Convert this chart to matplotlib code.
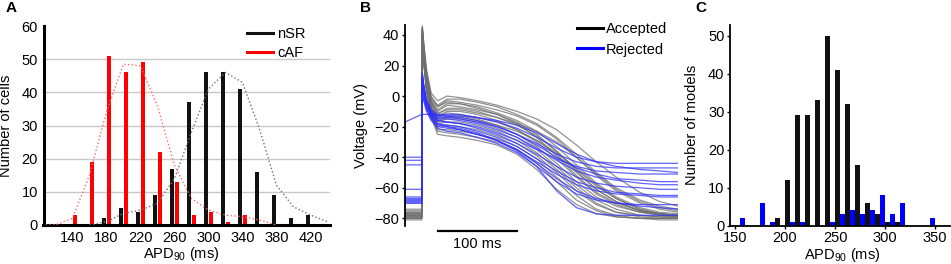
import matplotlib
matplotlib.use('Agg')
import matplotlib.pyplot as plt
from matplotlib.lines import Line2D
import numpy as np

plt.rcParams['font.family'] = ['Liberation Sans', 'DejaVu Sans']
plt.rcParams['mathtext.fontset'] = 'custom'
plt.rcParams['mathtext.rm'] = 'Liberation Sans'
plt.rcParams['mathtext.it'] = 'Liberation Sans:italic'
plt.rcParams['font.size'] = 10.5

# ---------------- Panel A data ----------------
bins_a = [140, 160, 180, 200, 220, 240, 260, 280, 300, 320, 340, 360, 380, 400, 420]
nsr_counts = [0, 0, 2, 5, 4, 9, 17, 37, 46, 46, 41, 16, 9, 2, 3]
caf_counts = [3, 19, 51, 46, 49, 22, 13, 3, 4, 1, 3, 0, 0, 0, 0]
nsr_curve_x = [160, 180, 200, 220, 240, 260, 280, 300, 320, 340, 360, 380, 400, 420, 440]
nsr_curve = [0, 1, 3.5, 4.5, 6.5, 14, 28, 41, 46, 43, 29, 12, 5.5, 3, 1]
caf_curve_x = [100, 120, 140, 160, 180, 200, 220, 240, 260, 280, 300, 320, 340, 360, 380]
caf_curve = [0, 0, 2, 15, 34, 48.5, 48, 36, 18, 8, 4.5, 3, 2.5, 1.5, 0]
a_xticks = [140, 180, 220, 260, 300, 340, 380, 420]

# ---------------- Panel B data (action potential traces) ----------------
t_ms = [-21, 0, 0.8, 2.5, 6, 12, 20, 32, 48, 70, 95, 120, 145, 170, 195, 220, 245, 275, 300, 323]
accepted = [
    [-74, -74, 46, 36, 18, 2, -3, 0, -1, -3, -6, -10, -15, -22, -32, -43, -53, -63, -69, -72],
    [-75, -75, 45, 34, 16, 0, -6, -2, -2, -4, -7, -12, -18, -27, -38, -50, -60, -68, -72, -74],
    [-76, -76, 44, 33, 15, -2, -7, -3, -4, -6, -9, -13, -19, -28, -40, -52, -62, -70, -74, -76],
    [-77, -77, 44, 32, 13, -3, -9, -5, -5, -7, -11, -16, -23, -33, -45, -57, -66, -73, -76, -77],
    [-78, -78, 43, 31, 12, -4, -10, -6, -7, -9, -12, -17, -25, -36, -49, -61, -69, -75, -77, -78],
    [-79, -79, 42, 30, 11, -5, -12, -8, -8, -10, -14, -19, -26, -36, -48, -59, -67, -74, -77, -79],
    [-78, -78, 42, 29, 10, -6, -13, -10, -10, -12, -16, -22, -30, -41, -53, -64, -71, -76, -78, -79],
    [-80, -80, 41, 28, 9, -7, -14, -11, -12, -14, -17, -22, -29, -38, -50, -61, -69, -75, -78, -79],
    [-77, -77, 40, 27, 8, -8, -15, -13, -13, -15, -19, -25, -33, -44, -56, -66, -72, -76, -77, -78],
    [-79, -79, 39, 26, 7, -9, -17, -15, -15, -17, -21, -27, -35, -46, -58, -68, -74, -78, -79, -80],
    [-80, -80, 38, 25, 6, -10, -18, -17, -17, -19, -23, -29, -37, -48, -60, -70, -76, -79, -80, -80],
    [-78, -78, 37, 24, 5, -11, -20, -19, -20, -22, -26, -31, -39, -50, -62, -71, -76, -78, -79, -79],
    [-81, -81, 36, 23, 4, -12, -22, -22, -23, -25, -28, -33, -41, -53, -65, -74, -78, -80, -81, -81],
    [-80, -80, 35, 22, 3, -13, -23, -24, -25, -27, -30, -35, -44, -56, -68, -75, -79, -80, -80, -80],
    [-80, -80, 34, 22, 4, -14, -25, -26, -27, -29, -32, -38, -48, -61, -71, -77, -79, -80, -80, -80],
    [-76, -76, 43, 31, 12, -4, -11, -9, -9, -11, -14, -18, -23, -30, -40, -51, -61, -69, -73, -75],
    [-79, -79, 40, 27, 8, -8, -16, -14, -14, -16, -19, -23, -29, -37, -47, -58, -67, -74, -77, -78],
    [-77, -77, 45, 34, 15, -1, -7, -4, -5, -8, -12, -18, -27, -39, -52, -63, -70, -75, -77, -78],
]
rejected = [
    [-17, -12, -12, -12, -12, -12, -12.5, -13, -13, -14, -16, -19, -24, -31, -38, -43, -46, -48, -49, -50],
    [-40, -40, 15, 8, -2, -9, -12, -12, -12, -14, -17, -21, -27, -34, -40, -43, -44, -44, -44, -44],
    [-42, -42, 13, 6, -4, -11, -14, -14, -15, -17, -20, -25, -31, -38, -43, -46, -47, -47, -47, -47],
    [-45, -45, 10, 4, -6, -13, -16, -17, -18, -20, -24, -29, -35, -41, -46, -49, -50, -51, -51, -51],
    [-61, -61, 14, 7, -3, -10, -13, -13, -14, -16, -20, -25, -32, -40, -47, -51, -54, -55, -56, -56],
    [-66, -66, 12, 5, -5, -12, -16, -17, -18, -21, -25, -31, -38, -46, -53, -57, -59, -60, -61, -61],
    [-68, -68, 2, -2, -8, -14, -18, -19, -20, -23, -27, -33, -41, -49, -56, -60, -63, -64, -65, -65],
    [-69, -69, 0, -3, -10, -16, -20, -21, -22, -25, -29, -35, -43, -51, -58, -62, -64, -65, -66, -66],
    [-70, -70, 15, 7, -4, -12, -18, -20, -21, -24, -29, -36, -46, -62, -73, -77, -78, -78, -78, -78],
    [-67, -67, 13, 6, -4, -11, -15, -15, -16, -18, -22, -27, -34, -42, -49, -53, -55, -57, -58, -58],
    [-70, -70, 8, 2, -7, -14, -19, -20, -22, -25, -29, -35, -44, -54, -62, -67, -70, -72, -73, -74],
    [-68, -68, 5, 0, -8, -15, -21, -23, -24, -27, -31, -37, -46, -56, -64, -68, -70, -71, -71, -71],
]
b_yticks = [-80, -60, -40, -20, 0, 20, 40]

# ---------------- Panel C data ----------------
bins_c = [160, 170, 180, 190, 200, 210, 220, 230, 240, 250, 260, 270, 280, 290, 300, 310, 320, 330, 340, 350]
accepted_counts = [0, 0, 0, 2, 12, 29, 29, 33, 50, 41, 32, 16, 6, 3, 1, 1, 0, 0, 0, 0]
rejected_counts = [2, 0, 6, 1, 0, 1, 1, 0, 0, 1, 3, 4, 3, 4, 8, 3, 6, 0, 0, 2]
c_xticks = [150, 200, 250, 300, 350]
c_yticks = [0, 10, 20, 30, 40, 50]

W, H = 951, 264
fig = plt.figure(figsize=(W / 100, H / 100), dpi=100)

def px_axes(x0, y0, x1, y1):
    return fig.add_axes([x0 / W, 1 - y1 / H, (x1 - x0) / W, (y1 - y0) / H])

# ================= Panel A =================
axA = px_axes(43.5, 26, 330, 225)
bA = np.array(bins_a)
for gy in [10, 20, 30, 40, 50]:
    axA.axhline(gy, color='#c8c8c8', lw=1.0, zorder=0)
axA.bar(bA - 2.8, nsr_counts, width=5.2, color='#111111', zorder=2)
axA.bar(bA + 2.8, caf_counts, width=5.2, color='#ff0000', zorder=2)
axA.plot(nsr_curve_x, nsr_curve, ls=':', color='#707070', lw=1.0, zorder=3)
axA.plot(caf_curve_x, caf_curve, ls=':', color='#ff6a6a', lw=1.0, zorder=3)
axA.set_xlim(106, 443)
axA.set_ylim(0, 60)
axA.set_xticks(a_xticks)
axA.set_yticks([0, 10, 20, 30, 40, 50, 60])
axA.tick_params(length=0, pad=4, labelsize=10.5)
for s in ['top', 'right']:
    axA.spines[s].set_visible(False)
axA.spines['left'].set_linewidth(2.2)
axA.spines['bottom'].set_linewidth(2.2)
axA.set_ylabel('Number of cells')
axA.yaxis.set_label_coords(-0.105, 0.5)
axA.set_xlabel(r'APD$_{\mathrm{90}}$ (ms)')
axA.xaxis.set_label_coords(0.48, -0.1)
hA = [Line2D([], [], color='#111111', lw=2.2), Line2D([], [], color='#ff0000', lw=2.2)]
fig.legend(hA, ['nSR', 'cAF'], loc='upper left', bbox_to_anchor=(247 / W, 1 - 27 / H),
           frameon=False, borderpad=0, borderaxespad=0, handlelength=1.8,
           handletextpad=0.25, labelspacing=0.35, fontsize=10.5)

# ================= Panel B =================
axB = px_axes(405, 25, 678, 226)
for tr in accepted:
    axB.plot(t_ms, tr, color='#6e6e6e', lw=0.9, alpha=0.75)
for tr in rejected:
    axB.plot(t_ms, tr, color='#2e2eff', lw=0.9, alpha=0.75)
axB.set_xlim(-21, 323)
axB.set_ylim(-85, 46.5)
axB.set_yticks(b_yticks)
axB.set_xticks([])
for s in ['top', 'right', 'bottom']:
    axB.spines[s].set_visible(False)
axB.spines['left'].set_linewidth(1.3)
axB.tick_params(axis='y', length=2.5, width=1, pad=1.5, labelsize=10.5)
axB.set_ylabel('Voltage (mV)')
axB.yaxis.set_label_coords(-0.135, 0.5)
axB.plot([20, 120], [-88.3, -88.3], color='black', lw=1.6, clip_on=False)
axB.text(70, -96.8, '100 ms', ha='center', va='center', fontsize=10.5, clip_on=False)
hB = [Line2D([], [], color='black', lw=2.2), Line2D([], [], color='#0000ff', lw=2.2)]
fig.legend(hB, ['Accepted', 'Rejected'], loc='upper left', bbox_to_anchor=(576.7 / W, 1 - 22 / H),
           frameon=False, borderpad=0, borderaxespad=0, handlelength=1.8,
           handletextpad=0.2, labelspacing=0.45, fontsize=10.5)

# ================= Panel C =================
axC = px_axes(730, 25, 950, 225.7)
bC = np.array(bins_c)
axC.bar(bC - 2.5, rejected_counts, width=5, color='#0000ff', zorder=2)
axC.bar(bC + 2.5, accepted_counts, width=5, color='#111111', zorder=2)
axC.set_xlim(145, 365)
axC.set_ylim(0, 52.8)
axC.set_xticks(c_xticks)
axC.set_yticks(c_yticks)
for s in ['top', 'right']:
    axC.spines[s].set_visible(False)
axC.spines['left'].set_linewidth(1.3)
axC.spines['bottom'].set_linewidth(1.3)
axC.tick_params(length=2.5, width=1, pad=1.5, labelsize=10.5)
axC.set_ylabel('Number of models')
axC.yaxis.set_label_coords(-0.14, 0.5)
axC.set_xlabel(r'APD$_{\mathrm{90}}$ (ms)')
axC.xaxis.set_label_coords(0.51, -0.1)

# panel letters
fig.text(6 / W, 1 - 8 / H, 'A', fontsize=11, fontweight='bold', va='center', ha='left')
fig.text(360 / W, 1 - 8 / H, 'B', fontsize=11, fontweight='bold', va='center', ha='left')
fig.text(695 / W, 1 - 8 / H, 'C', fontsize=11, fontweight='bold', va='center', ha='left')

fig.savefig('out.png', dpi=100)
